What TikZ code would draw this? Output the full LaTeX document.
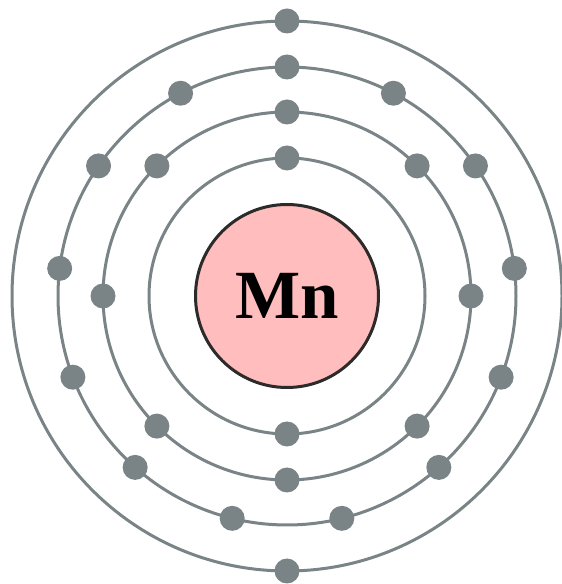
\documentclass[tikz,border=0pt]{standalone}
\usepackage{fontspec}
\setmainfont{Liberation Serif}
\usetikzlibrary{calc}
\begin{document}
\begin{tikzpicture}[x=1pt,y=1pt,
  shell/.style={draw=shellgray,line width=3pt},
  electron/.style={circle,fill=shellgray,inner sep=0pt,minimum size=25pt},
  nucleus/.style={circle,draw=nucborder,fill=nucpink,line width=3pt,minimum size=183pt,inner sep=0pt,font=\bfseries\fontsize{69}{69}\selectfont}]
\definecolor{shellgray}{RGB}{122,132,135}
\definecolor{nucpink}{RGB}{255,189,189}
\definecolor{nucborder}{RGB}{45,42,42}
\useasboundingbox (0,0) rectangle (562,584);
\coordinate (c) at (287,288);
\draw[shell] (c) circle (138);
\draw[shell] (c) circle (184);
\draw[shell] (c) circle (229);
\draw[shell] (c) circle (275);
\node[nucleus] (nuc) at (c) {Mn};
\foreach \k in {0,1} \node[electron] (e1-\k) at ($(c)+(90+180*\k:138)$) {};
\foreach \k in {0,...,7} \node[electron] (e2-\k) at ($(c)+(90+45*\k:184)$) {};
\foreach \k in {0,...,12} \node[electron] (e3-\k) at ($(c)+(90+360/13*\k:229)$) {};
\foreach \k in {0,1} \node[electron] (e4-\k) at ($(c)+(90+180*\k:275)$) {};
\end{tikzpicture}
\end{document}
